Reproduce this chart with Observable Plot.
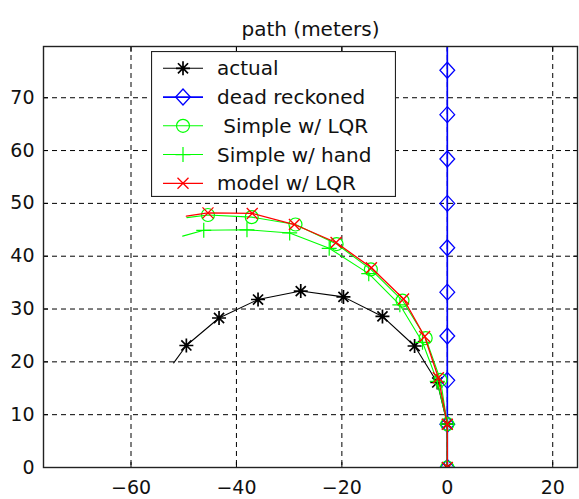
<!DOCTYPE html>
<html>
<head>
<meta charset="utf-8">
<script src="https://cdn.jsdelivr.net/npm/d3@7"></script>
<script src="https://cdn.jsdelivr.net/npm/@observablehq/plot@0.6"></script>
<style>
  html, body { margin: 0; padding: 0; background: #fff; }
  #wrap { position: relative; width: 579px; height: 499px; overflow: hidden; }
  #legend { position: absolute; left: 151px; top: 51px; }
  svg { font-family: "DejaVu Sans", sans-serif; }
</style>
</head>
<body>
<div id="wrap"></div>
<script>
// ---- data ----
const titleText = "path (meters)";
const xTicks = [-60, -40, -20, 0, 20];
const yTicks = [0, 10, 20, 30, 40, 50, 60, 70];

const seriesNames = ["actual", "dead reckoned", " Simple w/ LQR", "Simple w/ hand", "model w/ LQR"];
const seriesColors = ["#000000", "#0000ff", "#00ff00", "#00ff00", "#ff0000"];

// last point of each path is a half step drawn without marker
const actualX = [0, 0, -1.9, -6.2, -12.3, -19.7, -27.8, -35.9, -43.3, -49.5, -51.9];
const actualY = [0, 8.2, 16.1, 23.0, 28.6, 32.3, 33.4, 31.8, 28.3, 23.1, 19.8];

const deadX = [0, 0, 0, 0, 0, 0, 0, 0, 0, 0, 0];
const deadY = [0, 8.2, 16.5, 24.9, 33.2, 41.6, 50.0, 58.4, 66.8, 75.2, 83.6];

const simpleLqrX = [0, 0, -1.3, -4.1, -8.5, -14.5, -21.0, -28.8, -37.1, -45.4, -49.4];
const simpleLqrY = [0, 8.2, 16.6, 24.5, 31.6, 37.5, 42.3, 46.0, 47.4, 47.8, 47.3];

const handX = [0, 0, -1.9, -4.7, -9.0, -14.9, -22.4, -29.9, -38.0, -46.2, -50.2];
const handY = [0, 8.2, 16.3, 23.7, 30.8, 36.7, 41.5, 44.4, 45.0, 44.9, 43.8];

const modelX = [0, 0, -1.7, -4.3, -8.3, -14.4, -21.1, -29.0, -37.0, -45.4, -49.5];
const modelY = [0, 8.2, 17.0, 24.8, 31.9, 37.8, 42.6, 46.0, 48.1, 48.2, 47.6];

// ---- custom MATLAB-like marker symbols (r = half extent) ----
const rad = size => Math.sqrt(size / Math.PI);
const symStar = {draw(c, s) { const r = rad(s), d = r * 0.72;
  c.moveTo(-r, 0); c.lineTo(r, 0); c.moveTo(0, -r); c.lineTo(0, r);
  c.moveTo(-d, -d); c.lineTo(d, d); c.moveTo(-d, d); c.lineTo(d, -d); }};
const symPlus = {draw(c, s) { const r = rad(s);
  c.moveTo(-r, 0); c.lineTo(r, 0); c.moveTo(0, -r); c.lineTo(0, r); }};
const symTimes = {draw(c, s) { const r = rad(s);
  c.moveTo(-r, -r); c.lineTo(r, r); c.moveTo(-r, r); c.lineTo(r, -r); }};
const symDiamond = {draw(c, s) { const r = rad(s), w = r * 0.92;
  c.moveTo(0, -r); c.lineTo(w, 0); c.lineTo(0, r); c.lineTo(-w, 0); c.closePath(); }};
const symCircle = {draw(c, s) { const r = rad(s);
  c.moveTo(r, 0); c.arc(0, 0, r, 0, 2 * Math.PI); c.closePath(); }};

const seriesSymbols = [symStar, symDiamond, symCircle, symPlus, symTimes];
const seriesR = [7, 8, 6.5, 7.5, 5.5];
const seriesW = [1.1, 1.7, 1.1, 1.1, 1.3];
const seriesMarkerW = [1.7, 1.3, 1.2, 1.2, 1.3];
const seriesMarkerAll = [false, true, false, false, false];

const xs = [actualX, deadX, simpleLqrX, handX, modelX];
const ys = [actualY, deadY, simpleLqrY, handY, modelY];

const series = seriesNames.map((name, k) =>
  xs[k].map((x, i) => ({x, y: ys[k][i], i, last: i === xs[k].length - 1})));

const marks = [
  Plot.ruleX(xTicks, {stroke: "#000", strokeWidth: 1, strokeDasharray: "5,4"}),
  Plot.ruleY(yTicks.filter(d => d > 0), {stroke: "#000", strokeWidth: 1, strokeDasharray: "5,4"}),
  // MATLAB-style inward tick marks on all four sides
  Plot.axisX(xTicks, {anchor: "bottom", tickSize: -5, text: null, stroke: "#000"}),
  Plot.axisX(xTicks, {anchor: "top", tickSize: -5, text: null, stroke: "#000"}),
  Plot.axisY(yTicks, {anchor: "left", tickSize: -5, text: null, stroke: "#000"}),
  Plot.axisY(yTicks, {anchor: "right", tickSize: -5, text: null, stroke: "#000"}),
];
series.forEach((pts, k) => {
  marks.push(Plot.line(pts, {x: "x", y: "y", stroke: seriesColors[k], strokeWidth: seriesW[k], clip: true}));
  marks.push(Plot.dot(pts.filter(p => seriesMarkerAll[k] || !p.last), {
    x: "x", y: "y", symbol: seriesSymbols[k], r: seriesR[k],
    stroke: seriesColors[k], fill: "none", strokeWidth: seriesMarkerW[k], clip: true}));
});
marks.push(
  Plot.frame({stroke: "#222", strokeWidth: 1.4}),
  Plot.axisX(xTicks, {anchor: "bottom", tickSize: 0, tickPadding: 13, fontSize: 19, fill: "#111"}),
  Plot.axisY(yTicks, {anchor: "left", tickSize: 0, tickPadding: 9, fontSize: 19, fill: "#111"}),
  Plot.text([titleText], {frameAnchor: "top", dy: -25, fontSize: 20, fill: "#111"})
);

const chart = Plot.plot({
  width: 579,
  height: 499,
  marginLeft: 43,
  marginRight: 2,
  marginTop: 46,
  marginBottom: 32,
  style: {fontFamily: "DejaVu Sans, sans-serif", background: "#fff", overflow: "hidden"},
  x: {domain: [-76.6, 24.7], label: null},
  y: {domain: [0, 79.7], label: null},
  marks
});
document.getElementById("wrap").appendChild(chart);

// ---- legend (inside the axes, top-left) ----
const LW = 245, LH = 146, rowH = 28.75;
const leg = d3.select("#wrap").append("svg")
  .attr("id", "legend").attr("width", LW).attr("height", LH);
leg.append("rect").attr("x", 0.5).attr("y", 0.5).attr("width", LW - 1).attr("height", LH - 1)
  .attr("fill", "#fff").attr("stroke", "#222").attr("stroke-width", 1.2);
seriesNames.forEach((name, k) => {
  const cy = 17.3 + k * rowH;
  const g = leg.append("g");
  g.append("line").attr("x1", 12).attr("x2", 52).attr("y1", cy).attr("y2", cy)
    .attr("stroke", seriesColors[k]).attr("stroke-width", seriesW[k]);
  g.append("path")
    .attr("d", d3.symbol(seriesSymbols[k], Math.PI * seriesR[k] * seriesR[k])())
    .attr("transform", `translate(32,${cy})`)
    .attr("fill", "none").attr("stroke", seriesColors[k]).attr("stroke-width", seriesMarkerW[k]);
  g.append("text").attr("x", 66).attr("y", cy + 7).attr("font-size", 20)
    .attr("fill", "#111").attr("xml:space", "preserve").style("white-space", "pre").text(name);
});
</script>
</body>
</html>
